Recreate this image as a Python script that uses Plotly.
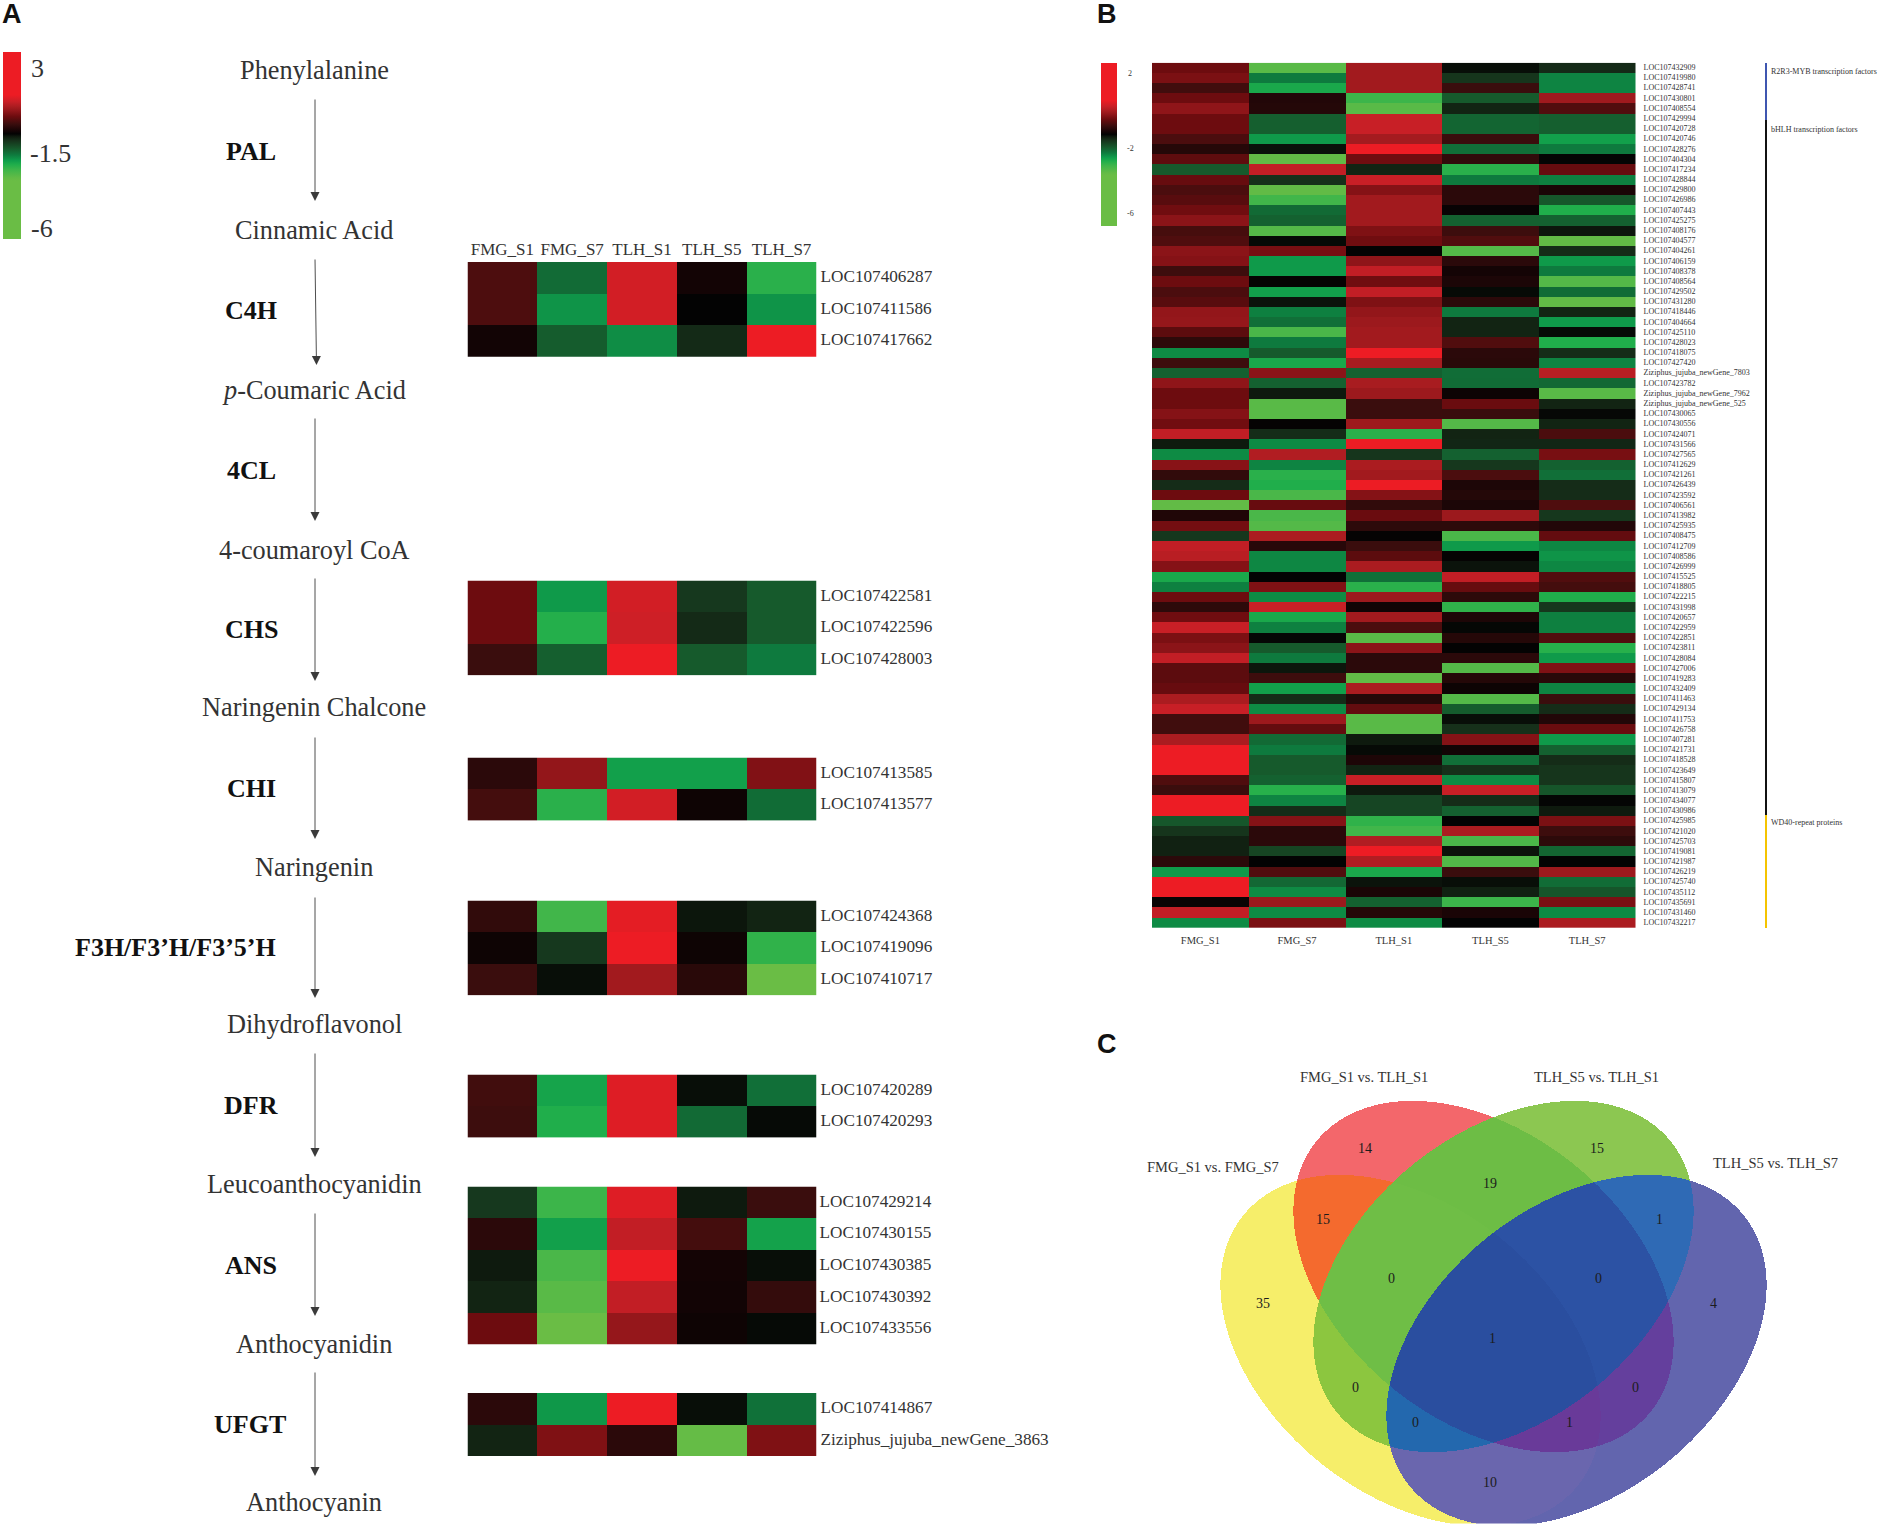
import numpy as np
import plotly.graph_objects as go

W, H = 1885, 1524
SERIF = "Liberation Serif"
INK = "#333333"

# ---------- Panel A data ----------
samples = ["FMG_S1", "FMG_S7", "TLH_S1", "TLH_S5", "TLH_S7"]

c4h_genes = ["LOC107406287", "LOC107411586", "LOC107417662"]
c4h_vals = [[-0.33, -1.81, 0.69, -0.81, -2.5],
            [-0.33, -2.15, 0.69, -0.94, -2.15],
            [-0.82, -1.67, -2.1, -1.2, 1.5]]
chs_genes = ["LOC107422581", "LOC107422596", "LOC107428003"]
chs_vals = [[-0.1, -2.2, 0.69, -1.33, -1.65],
            [-0.1, -2.45, 0.65, -1.2, -1.65],
            [-0.47, -1.7, 1.5, -1.65, -1.95]]
chi_genes = ["LOC107413585", "LOC107413577"]
chi_vals = [[-0.6, 0.18, -2.25, -2.25, 0.05],
            [-0.4, -2.5, 0.69, -0.85, -1.82]]
f3h_genes = ["LOC107424368", "LOC107419096", "LOC107410717"]
f3h_vals = [[-0.55, -2.7, 0.85, -1.05, -1.15],
            [-0.85, -1.33, 1.5, -0.85, -2.55],
            [-0.47, -1.0, 0.3, -0.62, -3.2]]
dfr_genes = ["LOC107420289", "LOC107420293"]
dfr_vals = [[-0.42, -2.3, 0.8, -1.0, -1.85],
            [-0.45, -2.42, 0.8, -1.8, -0.98]]
ans_genes = ["LOC107429214", "LOC107430155", "LOC107430385", "LOC107430392", "LOC107433556"]
ans_vals = [[-1.33, -2.65, 0.8, -1.07, -0.47],
            [-0.6, -2.25, 0.55, -0.4, -2.28],
            [-1.07, -2.8, 1.0, -0.8, -1.0],
            [-1.15, -2.95, 0.55, -0.82, -0.52],
            [-0.1, -3.2, 0.2, -0.85, -0.98]]
ufgt_genes = ["LOC107414867", "Ziziphus_jujuba_newGene_3863"]
ufgt_vals = [[-0.6, -2.18, 1.5, -1.0, -1.87],
             [-1.15, 0.03, -0.6, -3.1, 0.03]]

metabolites = ["Phenylalanine", "Cinnamic Acid", "<i>p</i>-Coumaric Acid", "4-coumaroyl CoA",
               "Naringenin Chalcone", "Naringenin", "Dihydroflavonol", "Leucoanthocyanidin",
               "Anthocyanidin", "Anthocyanin"]
enzymes = ["PAL", "C4H", "4CL", "CHS", "CHI", "F3H/F3’H/F3’5’H", "DFR", "ANS", "UFGT"]

# ---------- Panel B data ----------
myb_genes = ["LOC107432909", "LOC107419980", "LOC107428741", "LOC107430801", "LOC107408554"]
myb_vals = [[-.1, -2.95, .3, -1.0, -1.2],
            [0, -1.95, .3, -1.3, -2.03],
            [-.42, -2.35, .3, -.47, -2.03],
            [-.1, -.68, -2.65, -1.65, .28],
            [.15, -.66, -2.95, -1.15, -.3]]
bhlh_genes = ["LOC107429994", "LOC107420728", "LOC107420746", "LOC107428276", "LOC107404304",
              "LOC107417234", "LOC107428844", "LOC107429800", "LOC107426986", "LOC107407443",
              "LOC107425275", "LOC107408176", "LOC107404577", "LOC107404261", "LOC107406159",
              "LOC107408378", "LOC107408564", "LOC107429502", "LOC107431280", "LOC107418446",
              "LOC107404664", "LOC107425110", "LOC107428023", "LOC107418075", "LOC107427420",
              "Ziziphus_jujuba_newGene_7803", "LOC107423782", "Ziziphus_jujuba_newGene_7962",
              "Ziziphus_jujuba_newGene_525", "LOC107430065", "LOC107430556", "LOC107424071",
              "LOC107431566", "LOC107427565", "LOC107412629", "LOC107421261", "LOC107426439",
              "LOC107423592", "LOC107406561", "LOC107413982", "LOC107425935", "LOC107408475",
              "LOC107412709", "LOC107408586", "LOC107426999", "LOC107415525", "LOC107418805",
              "LOC107422215", "LOC107431998", "LOC107420657", "LOC107422959", "LOC107422851",
              "LOC107423811", "LOC107428084", "LOC107427006", "LOC107419283", "LOC107432409",
              "LOC107411463", "LOC107429134", "LOC107411753", "LOC107426758", "LOC107407281",
              "LOC107421731", "LOC107418528", "LOC107423649", "LOC107415807", "LOC107413079",
              "LOC107434077", "LOC107430986"]
bhlh_vals = [[-.1, -1.7, .6, -1.75, -1.7],
             [-.1, -1.7, .6, -1.75, -1.7],
             [-.35, -2.2, .32, -.47, -2.25],
             [-.65, -1.02, 1.3, -1.85, -1.95],
             [-.2, -3.05, -.08, -.55, -.95],
             [-1.65, .55, -1.15, -2.5, -.15],
             [-.14, -1.25, .6, -1.95, -2.0],
             [-.35, -3.05, .08, -.6, -.75],
             [-.25, -2.7, .3, -.6, -1.62],
             [-.08, -1.8, .3, -.9, -2.42],
             [.12, -1.72, .3, -1.72, -1.72],
             [-.38, -2.9, .03, -.45, -1.05],
             [-.32, -.98, -.08, -.3, -3.05],
             [.12, -.02, -.93, -2.9, -1.22],
             [.08, -2.2, .15, -.6, -2.2],
             [-.45, -2.2, .55, -.8, -1.95],
             [-.1, -.92, -.08, -.73, -2.9],
             [-.35, -2.25, .55, -.98, -1.82],
             [-.25, -1.03, .03, -.6, -3.05],
             [.18, -2.0, .18, -1.95, -1.15],
             [.2, -1.85, .25, -1.15, -2.2],
             [-.22, -2.8, .3, -1.15, -.98],
             [-.58, -1.95, .3, -.3, -2.42],
             [-2.08, -1.65, 1.3, -.6, -1.22],
             [-.45, -2.35, .35, -.62, -2.03],
             [-1.72, .12, -1.72, -1.83, .48],
             [.15, -1.72, .35, -1.82, -1.78],
             [-.1, -1.07, .25, -.86, -2.95],
             [-.1, -2.95, -.47, -.12, -1.15],
             [.08, -2.95, -.47, -.48, -.97],
             [-.07, -.92, .27, -2.9, -1.15],
             [.55, -1.22, -2.5, -1.15, -.35],
             [-1.07, -2.08, 1.3, -1.17, -1.17],
             [-2.08, .42, -1.3, -1.72, -.02],
             [.1, -2.03, .37, -1.32, -1.72],
             [-.55, -2.5, .3, -.35, -1.85],
             [-1.22, -2.42, 1.3, -.72, -1.22],
             [-.1, -2.8, .08, -.66, -1.22],
             [-3.05, -.14, -.55, -.73, -.32],
             [-.7, -2.8, -.12, .25, -1.32],
             [-.05, -2.9, -.58, -.58, -.68],
             [-1.32, .37, -.92, -2.8, -.17],
             [.55, -.63, -.47, -2.2, -2.05],
             [.48, -2.05, -.22, -.92, -2.15],
             [.08, -2.05, .37, -1.03, -2.05],
             [-2.35, -.94, -1.85, .55, -.3],
             [-2.0, .03, -2.5, -.14, -.4],
             [-.1, -2.08, .25, -.58, -2.42],
             [-.58, .6, -.83, -2.55, -1.32],
             [-.08, -2.35, .3, -.72, -2.0],
             [.6, -2.0, -.35, -.96, -2.0],
             [0, -.96, -2.95, -.65, -.3],
             [.12, -1.65, .12, -.93, -2.48],
             [.55, -1.95, -.6, -.6, -2.2],
             [-.22, -1.05, -.6, -2.9, .03],
             [-.22, -.45, -3.05, -.66, -.62],
             [-.14, -2.25, .37, -.86, -2.03],
             [.37, -1.22, -.65, -2.9, -.47],
             [.6, -2.08, -.17, -1.67, -1.22],
             [-.43, .25, -2.95, -1.0, -.68],
             [-.43, -.17, -2.95, -1.25, -.12],
             [.37, -1.8, -1.07, .08, -2.2],
             [1.3, -1.95, -.98, -.82, -1.72],
             [1.3, -1.65, -.72, -1.85, -1.22],
             [1.3, -1.65, -1.15, -1.25, -1.3],
             [-.32, -1.72, .6, -2.08, -1.3],
             [-.47, -2.48, -1.07, .6, -1.6],
             [1.3, -2.03, -1.45, -1.22, -.95],
             [1.3, -1.22, -1.45, -1.72, -1.07]]
wd40_genes = ["LOC107425985", "LOC107421020", "LOC107425703", "LOC107419081", "LOC107421987",
              "LOC107426219", "LOC107425740", "LOC107435112", "LOC107435691", "LOC107431460",
              "LOC107432217"]
wd40_vals = [[-1.62, .08, -2.55, -.94, 0],
             [-1.3, -.6, -2.7, .37, -.45],
             [-1.13, -.6, .42, -2.8, -.58],
             [-1.13, -1.45, 1.3, -1.03, -1.75],
             [-.6, -.94, .42, -2.88, -.94],
             [-2.2, -.3, -2.35, -.47, .25],
             [1.3, -1.78, -1.03, -1.0, -1.82],
             [1.3, -2.08, -.75, -1.13, -1.6],
             [-.88, .25, -1.72, -2.65, 0],
             [.55, -2.08, -.65, -.75, -2.08],
             [-2.08, 0, -2.08, -.94, .37]]

# ---------- Panel C data ----------
venn_names = ["FMG_S1 vs. FMG_S7", "FMG_S1 vs. TLH_S1", "TLH_S5 vs. TLH_S1", "TLH_S5 vs. TLH_S7"]
venn_counts = [35, 14, 15, 4, 15, 19, 1, 0, 0, 10, 0, 0, 1, 0, 1]
# counts order: A, B, C, D, AB, BC, CD, ABC, BCD, AD(below), AC, BD, ABCD, ACD, ABD
venn_count_xy = [(1263, 1303), (1365, 1148), (1597, 1148), (1713, 1303), (1323, 1219), (1490, 1183),
                 (1659, 1219), (1391, 1278), (1598, 1278), (1490, 1482), (1355, 1387), (1635, 1387),
                 (1492, 1338), (1415, 1422), (1569, 1422)]

# ---------- scale ----------
BLACK = -0.94
stops = [(-6, "#6abd45"), (-3.2, "#6abd45"), (-3.05, "rgb(98,187,70)"), (-2.65, "rgb(60,181,74)"),
         (-2.42, "rgb(32,174,75)"), (-2.22, "rgb(15,157,75)"), (-1.95, "rgb(14,122,62)"),
         (-1.65, "rgb(22,90,44)"), (-1.25, "rgb(22,48,26)"), (-1.07, "rgb(14,26,14)"), (BLACK, "rgb(3,3,3)"),
         (-.75, "rgb(26,5,6)"), (-.47, "rgb(58,13,13)"), (-.1, "rgb(109,12,15)"), (.15, "rgb(143,21,25)"),
         (.35, "rgb(168,28,32)"), (.6, "rgb(200,31,38)"), (.93, "rgb(237,28,36)"), (3, "rgb(237,28,36)")]
cscale = [[(v + 6) / 9, c] for v, c in stops]

fig = go.Figure()


def fx(px):
    return px / W


def fy(px):
    return 1 - px / H


# overlay pixel axes
layout = dict(
    xaxis=dict(domain=[0, 1], range=[0, W], visible=False, fixedrange=True),
    yaxis=dict(domain=[0, 1], range=[H, 0], visible=False, fixedrange=True),
)
ann = []
shapes = []


def text(x, y, s, size=26.3, color=INK, family=SERIF, anchor="center", bold=False):
    ann.append(dict(x=x, y=y, xref="x", yref="y", text=f"<b>{s}</b>" if bold else s, showarrow=False,
                    xanchor=anchor, yanchor="middle", font=dict(size=size, color=color, family=family)))


axis_no = [1]


def heat(vals, ticks, x0, x1, y0, y1, tick_size, coloraxis, top_labels=False, bottom_labels=False,
         standoff=4, xtick_size=17, x_standoff=None):
    axis_no[0] += 1
    n = axis_no[0]
    rows = list(range(len(ticks)))
    fig.add_trace(go.Heatmap(z=vals, x=samples, y=rows, coloraxis=coloraxis, xaxis=f"x{n}", yaxis=f"y{n}",
                             xgap=0, ygap=0, hovertemplate="%{x}<br>%{z}<extra></extra>"))
    show_x = top_labels or bottom_labels
    layout[f"xaxis{n}"] = dict(domain=[fx(x0), fx(x1)], anchor=f"y{n}", side="top" if top_labels else "bottom",
                               showticklabels=show_x, ticks="", showgrid=False, zeroline=False, showline=False,
                               fixedrange=True, tickangle=0, type="category",
                               tickfont=dict(size=xtick_size, family=SERIF, color=INK),
                               ticklabelstandoff=standoff if x_standoff is None else x_standoff)
    layout[f"yaxis{n}"] = dict(domain=[fy(y1), fy(y0)], anchor=f"x{n}", side="right", range=[len(ticks) - .5, -.5],
                               tickmode="array", tickvals=[r - 0.05 for r in rows], ticktext=ticks, ticks="",
                               showgrid=False, zeroline=False, showline=False, fixedrange=True,
                               ticklabelstandoff=standoff, tickfont=dict(size=tick_size, family=SERIF, color=INK))


# ---------- Panel A ----------
AX0, AX1, RH = 467.5, 816.5, 31.6
heat(c4h_vals, c4h_genes, AX0, AX1, 262, 262 + 3 * RH, 17.2, "coloraxis", top_labels=True, standoff=3)
heat(chs_vals, chs_genes, AX0, AX1, 580.5, 580.5 + 3 * RH, 17.2, "coloraxis", standoff=3)
heat(chi_vals, chi_genes, AX0, AX1, 757.5, 757.5 + 2 * RH, 17.2, "coloraxis", standoff=3)
heat(f3h_vals, f3h_genes, AX0, AX1, 900.5, 900.5 + 3 * RH, 17.2, "coloraxis", standoff=3)
heat(dfr_vals, dfr_genes, AX0, AX1, 1074.5, 1074.5 + 2 * RH, 17.2, "coloraxis", standoff=3)
heat(ans_vals, ans_genes, AX0, AX1, 1186.5, 1186.5 + 5 * RH, 17.2, "coloraxis", standoff=2)
heat(ufgt_vals, ufgt_genes, AX0, AX1, 1393, 1393 + 2 * RH, 17.2, "coloraxis", standoff=3)

meta_y = [70, 230, 390, 550, 707, 867, 1024, 1184, 1344, 1502]
for s, y in zip(metabolites, meta_y):
    text(314, y, s)
enz_y = [151, 310, 470, 629, 788, 947, 1105, 1265, 1424]
enz_x = [251, 251, 251, 251, 251, 175.5, 251, 251, 250]
for s, x, y in zip(enzymes, enz_x, enz_y):
    text(x, y, s, size=26, bold=True, color="#111111")
arrow_y = [(98, 201), (258, 365), (417, 521), (577, 681), (736, 839), (896, 998), (1052, 1157), (1212, 1316), (1371, 1476)]
for i, (a, b) in enumerate(arrow_y):
    x_tail, x_head = (315, 316.5) if i == 1 else (315, 315)
    ann.append(dict(x=x_head, y=b, ax=x_tail, ay=a, xref="x", yref="y", axref="x", ayref="y", text="",
                    showarrow=True, arrowhead=2, arrowsize=2.0, arrowwidth=0.9, arrowcolor="#3a3a3a"))

text(0, 14, "A", size=27, family="Liberation Sans", color="#111111", anchor="left", bold=True)
text(1095, 14, "B", size=27, family="Liberation Sans", color="#111111", anchor="left", bold=True)
text(1095, 1044, "C", size=27, family="Liberation Sans", color="#111111", anchor="left", bold=True)
text(29, 68, "3", size=26, anchor="left")
text(28, 153, "-1.5", size=26, anchor="left")
text(29, 228, "-6", size=26, anchor="left")

# ---------- Panel B ----------
b_genes = myb_genes + bhlh_genes + wd40_genes
b_vals = myb_vals + bhlh_vals + wd40_vals
heat(b_vals, b_genes, 1152, 1635.5, 62.7, 928, 8, "coloraxis2", bottom_labels=True, standoff=7, xtick_size=10.5,
     x_standoff=4)
text(1130, 73, "2", size=8)
text(1130, 148, "-2", size=8)
text(1130, 213, "-6", size=8)

for y0, y1, c in [(63, 120, "#3f56b0"), (120, 815, "#111111"), (815, 928, "#f5c400")]:
    shapes.append(dict(type="rect", xref="x", yref="y", x0=1765, x1=1767, y0=y0, y1=y1,
                       fillcolor=c, line=dict(width=0), layer="above"))
text(1769, 71, "R2R3-MYB transcription factors", size=8, anchor="left")
text(1769, 129, "bHLH transcription factors", size=8, anchor="left")
text(1769, 822, "WD40-repeat proteins", size=8, anchor="left")

# ---------- Panel C ----------
ELL_A, ELL_B, THETA = 215.0, 144.0, np.deg2rad(39)
# centre x, centre y, tilt sign for the four ellipses
ellipses = [(1410, 1350, 1), (1483, 1276, 1), (1503, 1276, -1), (1576, 1350, -1)]
gx = np.arange(1200, 1790, 1.0)
gy = np.arange(1090, 1524, 1.0)
XX, YY = np.meshgrid(gx, gy)
code = np.zeros_like(XX)
for k, (cx, cy, sgn) in enumerate(ellipses):
    dx, dy = XX - cx, YY - cy
    t = sgn * THETA
    u = dx * np.cos(t) + dy * np.sin(t)
    v = -dx * np.sin(t) + dy * np.cos(t)
    code += (2 ** k) * ((u / ELL_A) ** 2 + (v / ELL_B) ** 2 <= 1)
code[code == 0] = np.nan
# region colours keyed by bitmask A=1, B=2, C=4, D=8
region_colors = {1: "#f6ee6a", 2: "#f3676b", 3: "#f46a2e", 4: "#8cc751", 5: "#8cc63f", 6: "#6dbd45", 7: "#6fbe46",
                 8: "#6265ae", 9: "#6a66ae", 10: "#643f9d", 11: "#693a99", 12: "#2f6ab5", 13: "#2368ae",
                 14: "#2c52a4", 15: "#2a4e9f"}
region_scale = []
for k, c in region_colors.items():
    region_scale += [[(k - 1) / 15, c], [k / 15, c]]
fig.add_trace(go.Heatmap(x=gx, y=gy, z=code, zmin=0.5, zmax=15.5, colorscale=region_scale, showscale=False,
                         hoverinfo="skip", xaxis="x", yaxis="y"))
for name, (x, y) in zip(venn_names, [(1213, 1167), (1364, 1077), (1596, 1077), (1775, 1163)]):
    text(x, y, name, size=14.5)
for n, (x, y) in zip(venn_counts, venn_count_xy):
    text(x, y, str(n), size=14, color="#1c1c1c")

# colour bars: label positions sit inset from the bar ends, as in the reference
layout["coloraxis"] = dict(colorscale=cscale, cmin=-6, cmax=3,
                           colorbar=dict(x=fx(2.7), xanchor="left", xpad=0, y=fy(51.7), yanchor="top", ypad=0,
                                         len=186.5, lenmode="pixels", thickness=17.5, thicknessmode="pixels",
                                         showticklabels=False, ticks="", outlinewidth=0))
layout["coloraxis2"] = dict(colorscale=cscale, cmin=-6, cmax=3,
                            colorbar=dict(x=fx(1101), xanchor="left", xpad=0, y=fy(62.7), yanchor="top", ypad=0,
                                          len=162.5, lenmode="pixels", thickness=15.5, thicknessmode="pixels",
                                          showticklabels=False, ticks="", outlinewidth=0))

fig.update_layout(width=W, height=H, margin=dict(l=0, r=0, t=0, b=0, pad=0), paper_bgcolor="white",
                  plot_bgcolor="rgba(0,0,0,0)", showlegend=False, annotations=ann, shapes=shapes, **layout)
fig.write_html("out.html", config={"displayModeBar": False},
               post_script="document.body.style.margin='0';document.body.style.overflow='hidden';")
